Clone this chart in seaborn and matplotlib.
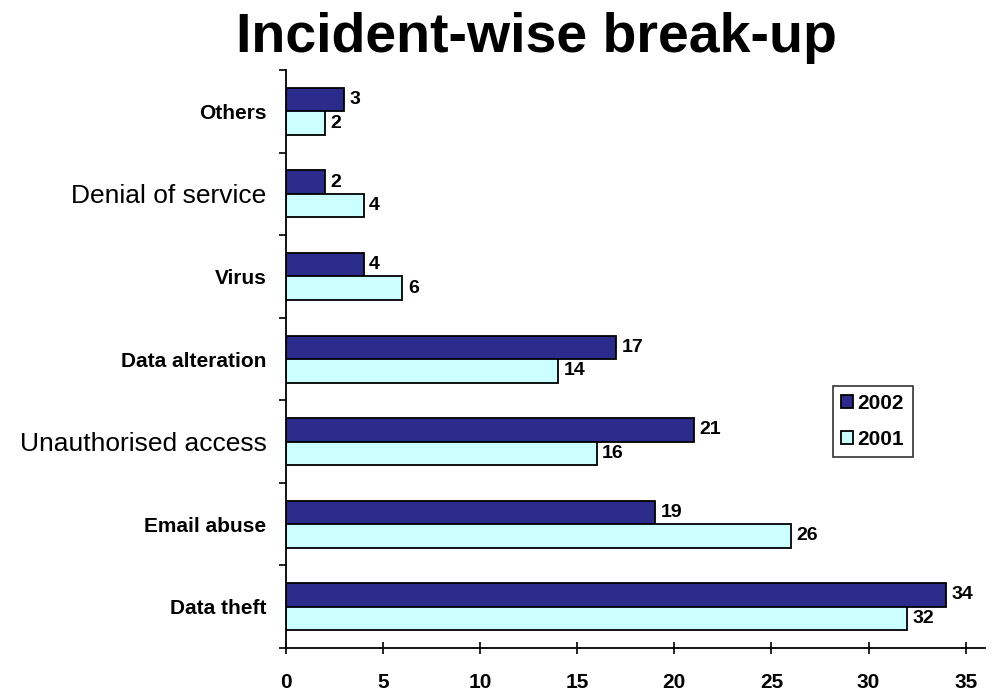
import matplotlib
matplotlib.use("Agg")
import matplotlib.pyplot as plt
import seaborn as sns
import pandas as pd
import numpy as np
from matplotlib.ticker import FixedLocator

categories = ["Others", "Denial of service", "Virus", "Data alteration",
              "Unauthorised access", "Email abuse", "Data theft"]
values_2002 = [3, 2, 4, 17, 21, 19, 34]
values_2001 = [2, 4, 6, 14, 16, 26, 32]
years = ["2002", "2001"]
bold_labels = {"Others", "Virus", "Data alteration", "Email abuse", "Data theft"}

df = pd.DataFrame({
    "Incident": categories * 2,
    "Count": values_2002 + values_2001,
    "Year": ["2002"] * len(categories) + ["2001"] * len(categories),
})

sns.set_style("white")
plt.rcParams["font.family"] = ["Liberation Sans", "DejaVu Sans"]
plt.rcParams["text.color"] = "black"
plt.rcParams["xtick.color"] = "black"
plt.rcParams["ytick.color"] = "black"

fig = plt.figure(figsize=(9.93, 6.98), dpi=100)
ax = fig.add_axes([0.288, 0.0716, 0.704, 0.828])

palette = {"2002": "#2b2b8c", "2001": "#ccffff"}
sns.barplot(data=df, y="Incident", x="Count", hue="Year", hue_order=years,
            order=categories, palette=palette, orient="h", width=0.57,
            edgecolor="black", linewidth=1.3, saturation=1, ax=ax)

for cont in ax.containers:
    ax.bar_label(cont, fmt="%d", padding=4, fontsize=14, fontweight="bold", color="black")

ax.set_xlim(0, 36)
ax.set_ylim(6.5, -0.5)
ax.set_xticks(range(0, 36, 5))
ax.set_xticklabels([str(v) for v in range(0, 36, 5)], fontsize=15, fontweight="bold")
ax.tick_params(axis="x", direction="inout", length=8, width=1.2, color="black", pad=14, bottom=True)
ax.set_yticks(range(len(categories)))
labels = ax.set_yticklabels(categories)
for lab in labels:
    if lab.get_text() in bold_labels:
        lab.set_fontweight("bold")
        lab.set_fontsize(15)
    else:
        lab.set_fontsize(19)
ax.tick_params(axis="y", which="major", length=0, pad=14)
ax.yaxis.set_minor_locator(FixedLocator(np.arange(-0.5, 7, 1)))
ax.tick_params(axis="y", which="minor", direction="out", length=5, width=1.2, color="black", left=True)

for s in ["top", "right"]:
    ax.spines[s].set_visible(False)
for s in ["left", "bottom"]:
    ax.spines[s].set_color("black")
    ax.spines[s].set_linewidth(1.3)

ax.set_xlabel("")
ax.set_ylabel("")

leg = ax.legend(loc="upper left", bbox_to_anchor=(0.767, 0.472), frameon=True,
                fancybox=False, edgecolor="black", handlelength=0.6,
                handleheight=0.6, handletextpad=0.2, borderpad=0.4, labelspacing=0.8,
                prop={"weight": "bold", "size": 15})
leg.get_frame().set_linewidth(1.2)

fig.text(0.54, 0.945, "Incident-wise break-up", ha="center", va="center",
         fontsize=40, fontweight="bold", color="black")

fig.savefig("out.png", dpi=100, facecolor="white")
